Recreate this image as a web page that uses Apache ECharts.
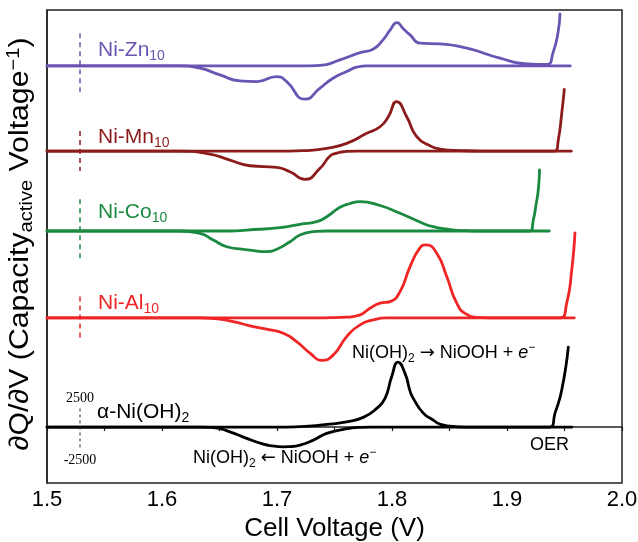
<!DOCTYPE html>
<html><head><meta charset="utf-8">
<script src="https://cdn.jsdelivr.net/npm/echarts@6/dist/echarts.min.js"></script>
<style>html,body{margin:0;padding:0;background:#fff}#c{width:638px;height:542px}</style>
</head><body><div id="c"></div>
<script>
// ---- data (x: cell voltage in V, y: dQ/dV relative to each sample's baseline) ----
const samples = ['Ni-Zn10', 'Ni-Mn10', 'Ni-Co10', 'Ni-Al10', 'α-Ni(OH)2'];
const offsets = [42000, 32100, 22800, 12700, 0];
const colors = ['#6b55b3', '#8c1b1b', '#1a8a40', '#f02525', '#000000'];

const znCharge = [[1.5,0],[1.72,0],[1.7374,60],[1.7548,698],[1.7722,1547],[1.7835,1942],[1.7922,3024],[1.7985,4200],[1.8043,5036],[1.8100,4300],[1.8157,3605],[1.8243,2640],[1.8417,2559],[1.8652,2058],[1.8939,896],[1.9174,233],[1.9348,174],[1.9400,1512],[1.9443,3838],[1.9461,6048]];
const znDischarge = [[1.5,0],[1.6157,0],[1.633,-267],[1.6504,-1047],[1.6678,-1745],[1.6824,-1826],[1.6997,-1244],[1.7084,-1826],[1.7243,-3873],[1.7374,-2593],[1.7487,-1430],[1.7606,-663],[1.7693,-151],[1.778,0],[1.955,0]];

const mnCharge = [[1.5,0],[1.71,0],[1.7258,60],[1.7432,314],[1.7606,896],[1.778,2059],[1.7896,2826],[1.7968,3989],[1.8041,5757],[1.8128,3989],[1.8215,1663],[1.833,616],[1.8417,233],[1.859,58],[1.88,0],[1.9417,0],[1.9446,1279],[1.9476,4385],[1.9498,7176]];
const mnDischarge = [[1.5,0],[1.6157,0],[1.6417,-349],[1.6591,-1047],[1.6765,-1709],[1.6997,-1896],[1.7113,-2407],[1.7243,-3291],[1.7374,-2012],[1.7461,-582],[1.7519,-250],[1.7577,-81],[1.77,0],[1.956,0]];

const coCharge = [[1.5,0],[1.66,0],[1.6737,116],[1.7026,384],[1.72,779],[1.7345,1082],[1.7432,1663],[1.7548,2756],[1.7635,3198],[1.7722,3408],[1.7896,2966],[1.807,2059],[1.8243,1047],[1.8357,500],[1.8504,174],[1.865,35],[1.88,0],[1.92,0],[1.9229,1279],[1.9252,3024],[1.9272,4768],[1.9283,7094]];
const coDischarge = [[1.5,0],[1.6157,0],[1.633,-267],[1.6446,-1047],[1.6563,-1826],[1.6707,-2128],[1.6765,-2210],[1.691,-2407],[1.6997,-2128],[1.7113,-1244],[1.72,-465],[1.7316,-81],[1.7432,0],[1.9368,0]];

const alCharge = [[1.5,0],[1.73,0],[1.7461,20],[1.7606,81],[1.7722,349],[1.7809,1128],[1.7896,1710],[1.7983,1896],[1.807,3059],[1.8157,5966],[1.8243,8141],[1.8296,8490],[1.8389,7525],[1.8476,4803],[1.8563,1710],[1.8643,465],[1.8765,35],[1.89,0],[1.9461,0],[1.9519,1710],[1.9563,5582],[1.9591,9886]];
const alDischarge = [[1.5,0],[1.633,0],[1.646,-81],[1.662,-430],[1.6765,-930],[1.691,-1314],[1.7055,-1779],[1.7171,-2756],[1.7287,-4105],[1.7389,-4943],[1.749,-4303],[1.7606,-2175],[1.7722,-814],[1.7837,-233],[1.7954,0],[1.9585,0]];

const niCharge = [[1.5,0],[1.70,0],[1.72,60],[1.7374,233],[1.7606,616],[1.775,1128],[1.7867,2175],[1.7939,3338],[1.7997,5850],[1.8052,7560],[1.8113,6245],[1.8157,4187],[1.8185,3338],[1.8272,1628],[1.8359,814],[1.8417,349],[1.8548,58],[1.87,0],[1.9374,0],[1.9417,1593],[1.9476,4303],[1.9533,9304]];
const niDischarge = [[1.5,0],[1.633,0],[1.6446,-58],[1.6591,-547],[1.6737,-1314],[1.6881,-1977],[1.6939,-2152],[1.7055,-2291],[1.7113,-2268],[1.72,-2093],[1.7316,-1512],[1.7432,-733],[1.7577,-267],[1.7722,-35],[1.7809,0],[1.9565,0]];

// scale bars (dashed) at x = scaleX
const scaleX = 1.5287;
const scaleTop = [3800, 2330, 3700, 2480, 2170];
const scaleBottom = [-3400, -2330, -3450, -2560, -2670];

const xTicks = [1.5, 1.6, 1.7, 1.8, 1.9, 2.0];

const charges = [znCharge, mnCharge, coCharge, alCharge, niCharge];
const discharges = [znDischarge, mnDischarge, coDischarge, alDischarge, niDischarge];

const F = "'Liberation Sans', Arial, Helvetica, sans-serif";
const FS = "'Liberation Serif', 'Times New Roman', serif";
const FA = "'DejaVu Sans', sans-serif";

const series = [];
samples.forEach((name, i) => {
  const off = offsets[i];
  const shift = arr => arr.map(p => [p[0], p[1] + off]);
  const base = {type: 'line', symbol: 'none', showSymbol: false, silent: true, animation: false,
    smooth: 0.55, lineStyle: {color: colors[i], width: 2.8, join: 'round', cap: 'round'}, itemStyle: {color: colors[i]}};
  series.push(Object.assign({}, base, {name: name + ' charge', data: shift(charges[i])}));
  series.push(Object.assign({}, base, {name: name + ' discharge', data: shift(discharges[i])}));
  series.push({type: 'line', name: name + ' scale', symbol: 'none', silent: true, animation: false,
    data: [[scaleX, off + scaleTop[i]], [scaleX, off + scaleBottom[i]]],
    lineStyle: {color: i === 4 ? '#222' : colors[i], width: i === 4 ? 1 : 1.5, type: i === 4 ? [3, 3] : [5, 4]}});
});

function richSet(size, color) {
  const sub = Math.round(size * 0.66);
  const lh = size + 5;
  return {
    m: {fontSize: size, fontFamily: F, fill: color, color: color, lineHeight: lh},
    a: {fontSize: size, fontFamily: FA, fill: color, color: color, lineHeight: lh},
    i: {fontSize: size, fontFamily: F, fill: color, color: color, fontStyle: 'italic', lineHeight: lh},
    s: {fontSize: sub, fontFamily: F, fill: color, color: color, lineHeight: Math.round(lh / 2), verticalAlign: 'bottom'},
    p: {fontSize: sub, fontFamily: F, fill: color, color: color, lineHeight: Math.round(lh / 2), verticalAlign: 'top'}
  };
}
function txt(x, y, text, size, color, extra) {
  return Object.assign({type: 'text', x: x, y: y, silent: true, z: 10,
    style: {text: text, rich: richSet(size, color), fill: color, align: 'left', verticalAlign: 'middle', font: size + 'px ' + F}}, extra || {});
}
function plain(x, y, text, font, color) {
  return {type: 'text', x: x, y: y, silent: true, z: 10,
    style: {text: text, fill: color, align: 'center', verticalAlign: 'middle', font: font}};
}

const yTitle = {type: 'text', x: 21, y: 244, rotation: Math.PI / 2, scaleX: 1.12, silent: true, z: 10,
  style: {
    text: '{m|∂Q/∂V (Capacity}{s|active}{m| Voltage}{p|−1}{m|)}',
    align: 'center', verticalAlign: 'middle', fill: '#000', font: '27px ' + F,
    rich: {
      m: {fontSize: 27, fontFamily: F, fill: '#000', lineHeight: 31},
      s: {fontSize: 18, fontFamily: F, fill: '#000', lineHeight: 15, verticalAlign: 'bottom'},
      p: {fontSize: 18, fontFamily: F, fill: '#000', lineHeight: 15, verticalAlign: 'top'}
    }
  }
};

const graphics = [
  yTitle,
  txt(98, 50, '{m|Ni-Zn}{s|10}', 21, colors[0]),
  txt(98, 137, '{m|Ni-Mn}{s|10}', 21, colors[1]),
  txt(98, 212, '{m|Ni-Co}{s|10}', 21, colors[2]),
  txt(98, 303, '{m|Ni-Al}{s|10}', 21, colors[3]),
  txt(97, 412, '{m|α-Ni(OH)}{s|2}', 21, '#000'),
  txt(352, 353, '{m|Ni(OH)}{s|2}{m| }{a|→}{m| NiOOH + }{i|e}{p|−}', 18, '#000'),
  txt(193, 458, '{m|Ni(OH)}{s|2}{m| }{a|←}{m| NiOOH + }{i|e}{p|−}', 18, '#000'),
  txt(530, 445, '{m|OER}', 18, '#000'),
  plain(80, 398, '2500', '14px ' + FS, '#000'),
  plain(80, 460, '-2500', '14px ' + FS, '#000')
];

const chart = echarts.init(document.getElementById('c'), null, {renderer: 'canvas'});
chart.setOption({
  animation: false,
  backgroundColor: '#fff',
  grid: {left: 47, right: 16, top: 10, bottom: 59, containLabel: false, outerBoundsMode: 'none',
    show: true, borderColor: '#222', borderWidth: 1.5, backgroundColor: 'transparent'},
  xAxis: {
    type: 'value', min: xTicks[0], max: xTicks[xTicks.length - 1], interval: 0.1,
    name: 'Cell Voltage (V)', nameLocation: 'middle', nameGap: 30,
    nameTextStyle: {fontSize: 26, fontFamily: F, color: '#000'},
    axisLine: {show: true, lineStyle: {color: '#222', width: 1.5}},
    axisTick: {show: true, inside: false, length: 4, lineStyle: {color: '#222', width: 1.2}},
    minorTick: {show: true, splitNumber: 2, length: 4, lineStyle: {color: '#222', width: 1.2}},
    axisLabel: {fontSize: 22, fontFamily: F, color: '#000', margin: 6, formatter: v => v.toFixed(1)},
    splitLine: {show: false}
  },
  yAxis: {
    type: 'value', min: -6500, max: 48500,
    axisLine: {show: true, lineStyle: {color: '#222', width: 1.5}},
    axisTick: {show: false}, axisLabel: {show: false}, splitLine: {show: false}
  },
  series: series,
  graphic: graphics
});
</script>
</body></html>
